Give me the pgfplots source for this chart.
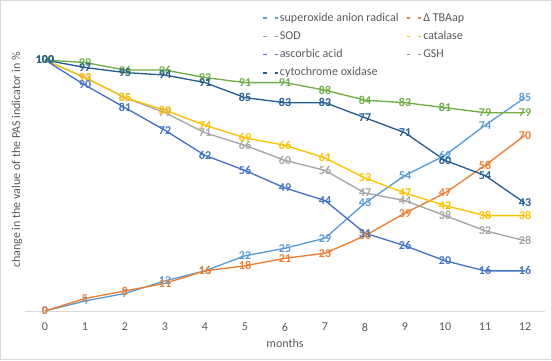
\documentclass[border=0pt]{standalone}
\usepackage{pgfplots}
\pgfplotsset{compat=1.18}
\usepackage{fontspec}
\setmainfont{Carlito}
\definecolor{cA}{HTML}{5B9BD5}
\definecolor{cB}{HTML}{ED7D31}
\definecolor{cC}{HTML}{A5A5A5}
\definecolor{cD}{HTML}{FFC000}
\definecolor{cE}{HTML}{4472C4}
\definecolor{cF}{HTML}{70AD47}
\definecolor{cG}{HTML}{255E91}
\definecolor{textgray}{HTML}{595959}
\definecolor{axisgray}{HTML}{D9D9D9}
\begin{document}
\begin{tikzpicture}[font=\fontsize{9}{11}\selectfont]
\useasboundingbox (0,0) rectangle (414pt,270pt);
\draw[axisgray, line width=0.75pt] (0.375pt,0.375pt) rectangle (413.625pt,269.625pt);
\begin{axis}[
  at={(18.75pt,36.75pt)}, anchor=south west,
  scale only axis, width=390pt, height=188.25pt,
  xmin=-0.5, xmax=12.5, ymin=0, ymax=100,
  clip=false,
  axis y line=none,
  axis x line*=bottom,
  x axis line style={draw=axisgray, line width=0.75pt, -},
  xtick={0,...,12}, major tick length=0pt,
  xticklabel style={text=textgray, anchor=center, yshift=-12pt, font=\fontsize{9}{11}\selectfont},
  xlabel={months},
  xlabel style={text=textgray, anchor=center, at={(axis description cs:0.5,0)}, yshift=-24pt, font=\fontsize{9}{11}\selectfont},
  /pgf/number format/assume math mode=true,
  nodes near coords,
  every node near coord/.append style={anchor=center, inner sep=0pt, font=\fontsize{9}{11}\selectfont\bfseries},
  every axis plot/.append style={line width=1pt, no marks},
  legend columns=2,
  legend cell align=left,
  legend style={at={(0.4583,1.1886)}, anchor=north west, draw=none, fill=none,
    inner sep=0pt, outer sep=0pt, row sep=5.6pt, column sep=0pt,
    nodes={inner sep=0pt, text=textgray, text height=6.3pt, text depth=1.8pt, font=\fontsize{9}{11}\selectfont},
    /tikz/every even column/.append style={column sep=6pt}},
  legend image code/.code={\path[draw=none, fill=none] (0pt,-1pt) rectangle (12.5pt,1pt); \draw[#1, overlay, line width=1pt, dash pattern=on 2.5pt off 6pt] (0pt,0pt) -- (11.5pt,0pt);},
]
\addplot[color=cA, every node near coord/.append style={text=cA}] coordinates {(0,0)(1,4)(2,7)(3,12)(4,16)(5,22)(6,25)(7,29)(8,43)(9,54)(10,62)(11,74)(12,85)};
\addlegendentry{superoxide anion radical}
\addplot[color=cB, every node near coord/.append style={text=cB}] coordinates {(0,0)(1,5)(2,8)(3,11)(4,16)(5,18)(6,21)(7,23)(8,30)(9,39)(10,47)(11,58)(12,70)};
\addlegendentry{Δ TBAap}
\addplot[color=cC, every node near coord/.append style={text=cC}] coordinates {(0,100)(1,93)(2,85)(3,79)(4,71)(5,66)(6,60)(7,56)(8,47)(9,44)(10,38)(11,32)(12,28)};
\addlegendentry{SOD}
\addplot[color=cD, every node near coord/.append style={text=cD}] coordinates {(0,100)(1,93)(2,85)(3,80)(4,74)(5,69)(6,66)(7,61)(8,53)(9,47)(10,42)(11,38)(12,38)};
\addlegendentry{catalase}
\addplot[color=cE, every node near coord/.append style={text=cE}] coordinates {(0,100)(1,90)(2,81)(3,72)(4,62)(5,56)(6,49)(7,44)(8,31)(9,26)(10,20)(11,16)(12,16)};
\addlegendentry{ascorbic acid}
\addplot[color=cF, every node near coord/.append style={text=cF}] coordinates {(0,100)(1,99)(2,96)(3,96)(4,93)(5,91)(6,91)(7,88)(8,84)(9,83)(10,81)(11,79)(12,79)};
\addlegendentry{GSH}
\addplot[color=cG, every node near coord/.append style={text=cG}] coordinates {(0,100)(1,97)(2,95)(3,94)(4,91)(5,85)(6,83)(7,83)(8,77)(9,71)(10,60)(11,54)(12,43)};
\addlegendentry{cytochrome oxidase}
\end{axis}
\node[rotate=90, text=textgray, anchor=center] at (12.75pt,150pt) {change in the value of the PAS indicator in \%};
\end{tikzpicture}
\end{document}
